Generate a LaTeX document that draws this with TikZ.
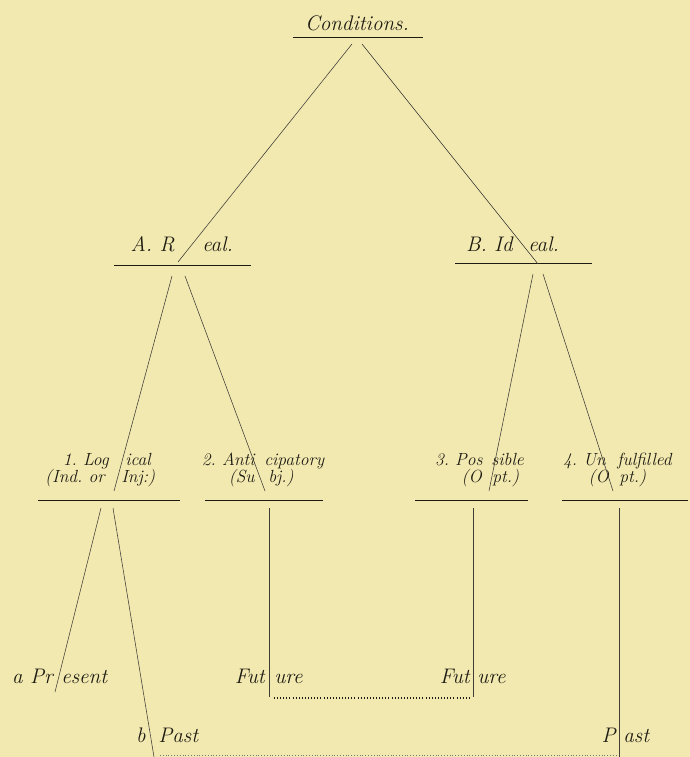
\documentclass[tikz,border=0pt]{standalone}
\usepackage{tikz}
\usetikzlibrary{positioning}

\definecolor{paper}{RGB}{242,233,177}
\definecolor{ink}{RGB}{30,27,18}

\begin{document}
\frenchspacing
\begin{tikzpicture}[
            x=0.025cm, y=-0.025cm,
            lbl/.style={font=\itshape\fontsize{15}{17}\selectfont, inner sep=0pt, text=ink},
            sublbl/.style={lbl, font=\itshape\fontsize{12.5}{14}\selectfont},
            upper/.style={sublbl, text depth=0pt},
            lower/.style={sublbl, text height=7pt},
            rule/.style={draw=ink, line width=0.6pt},
            branch/.style={draw=ink!85, line width=0.4pt},
            dots/.style={draw=ink, line width=0.9pt, dash pattern=on 0.6pt off 1.6pt},
            faintdots/.style={draw=ink!60, line width=0.5pt, dash pattern=on 0.6pt off 1.4pt}
        ]
            % paper
            \fill[paper] (0,0) rectangle (690,757);
            \useasboundingbox (0,0) rectangle (690,757);

            % headings
            \node[lbl, anchor=base] (cond) at (357,30) {Conditions.};
            \node[lbl, anchor=base east] (real-l) at (175,251) {A. R};
            \node[lbl, anchor=base west] (real-r) at (202,251) {eal.};
            \node[lbl, anchor=base east] (ideal-l) at (513,251) {B. Id};
            \node[lbl, anchor=base west] (ideal-r) at (528,251) {eal.};

            \node[upper, anchor=base east] (log-l) at (109,465) {\textit{1}. Log};
            \node[upper, anchor=base west] (log-r) at (125,465) {ical};
            \node[lower, anchor=base east] (ind-l) at (105,482) {(Ind. or};
            \node[lower, anchor=base west] (ind-r) at (121,482) {Inj:)};
            \node[upper, anchor=base east] (ant-l) at (255,465) {2. Anti};
            \node[upper, anchor=base west] (ant-r) at (264,465) {cipatory};
            \node[lower, anchor=base east] (sub-l) at (255,482) {(Su};
            \node[lower, anchor=base west] (sub-r) at (268,482) {bj.)};
            \node[upper, anchor=base east] (pos-l) at (483,465) {3. Pos};
            \node[upper, anchor=base west] (pos-r) at (491,465) {sible};
            \node[lower, anchor=base east] (opt3-l) at (482,482) {(O};
            \node[lower, anchor=base west] (opt3-r) at (492,482) {pt.)};
            \node[upper, anchor=base east] (unf-l) at (606,465) {4. Un};
            \node[upper, anchor=base west] (unf-r) at (617,465) {fulfilled};
            \node[lower, anchor=base east] (opt4-l) at (609,482) {(O};
            \node[lower, anchor=base west] (opt4-r) at (619,482) {pt.)};

            \node[lbl, anchor=base east] (pres-l) at (53,683) {a Pr};
            \node[lbl, anchor=base west] (pres-r) at (61,683) {esent};
            \node[lbl, anchor=base east] (fut1-l) at (265,683) {Fut};
            \node[lbl, anchor=base west] (fut1-r) at (274,683) {ure};
            \node[lbl, anchor=base east] (fut2-l) at (470,683) {Fut};
            \node[lbl, anchor=base west] (fut2-r) at (477,683) {ure};
            \node[lbl, anchor=base east] (past1-l) at (146,742) {b};
            \node[lbl, anchor=base west] (past1-r) at (158,742) {Past};
            \node[lbl, anchor=base east] (past2-l) at (616,742) {P};
            \node[lbl, anchor=base west] (past2-r) at (623,742) {ast};

            % underlines
            \coordinate (cond-w) at (293,37);   \coordinate (cond-e) at (423,37);
            \coordinate (real-w) at (114,265);  \coordinate (real-e) at (251,265);
            \coordinate (ideal-w) at (455,263); \coordinate (ideal-e) at (592,263);
            \coordinate (log-w) at (38,500);    \coordinate (log-e) at (180,500);
            \coordinate (ant-w) at (205,500);   \coordinate (ant-e) at (323,500);
            \coordinate (pos-w) at (415,500);   \coordinate (pos-e) at (528,500);
            \coordinate (unf-w) at (562,500);   \coordinate (unf-e) at (688,500);
            \foreach \u in {cond,real,ideal,log,ant,pos,unf}
                \draw[rule] (\u-w) -- (\u-e);

            % branch ends
            \coordinate (c1) at (352,44);  \coordinate (r0) at (178,262);
            \coordinate (c2) at (362,44);  \coordinate (i0) at (538,264);
            \coordinate (r1) at (172,276); \coordinate (l0) at (114,491);
            \coordinate (r2) at (185,276); \coordinate (a0) at (265,491);
            \coordinate (i1) at (533,274); \coordinate (p0) at (489,491);
            \coordinate (i2) at (543,274); \coordinate (u0) at (613,491);
            \coordinate (l1) at (101,508); \coordinate (pr0) at (55,692);
            \coordinate (l2) at (113,508); \coordinate (pa0) at (154,757);
            \coordinate (a1) at (269,508); \coordinate (f1) at (269,697);
            \coordinate (p1) at (473,508); \coordinate (f2) at (473,697);
            \coordinate (u1) at (619,508); \coordinate (pb0) at (619,757);

            \draw[branch] (c1) -- (r0);
            \draw[branch] (c2) -- (i0);
            \draw[branch] (r1) -- (l0);
            \draw[branch] (r2) -- (a0);
            \draw[branch] (i1) -- (p0);
            \draw[branch] (i2) -- (u0);
            \draw[branch] (l1) -- (pr0);
            \draw[branch] (l2) -- (pa0);
            \draw[branch] (a1) -- (f1);
            \draw[branch] (p1) -- (f2);
            \draw[branch] (u1) -- (pb0);

            % dotted links
            \coordinate (fut-w) at (274,698); \coordinate (fut-e) at (469,698);
            \coordinate (past-w) at (160,755); \coordinate (past-e) at (616,755);
            \draw[dots] (fut-w) -- (fut-e);
            \draw[faintdots] (past-w) -- (past-e);
        \end{tikzpicture}
\end{document}
